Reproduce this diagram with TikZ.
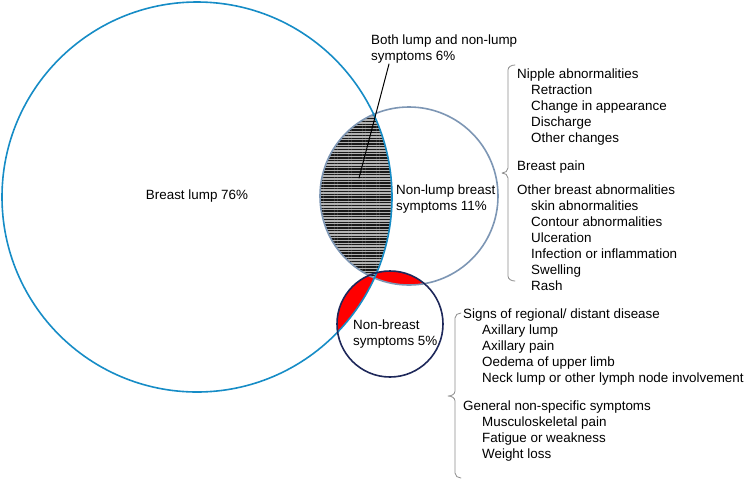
\documentclass[tikz,border=0pt]{standalone}
\usepackage{fontspec}
\setmainfont{Liberation Sans}
\usetikzlibrary{patterns.meta}
\definecolor{lumpblue}{RGB}{22,140,198}
\definecolor{nonlumpgray}{RGB}{125,150,180}
\definecolor{nonbreastnavy}{RGB}{30,40,90}
\tikzset{every picture/.append style={
    line join=round,
    line cap=round
  },
  ring/.style={line width=1.6pt},
  lbl/.style={align=left,inner sep=0pt,font=\fontsize{13.4}{16}\selectfont},
  bracket/.style={draw=black!45,line width=0.8pt}}

\begin{document}
\begin{tikzpicture}[x=1pt,y=-1pt]
        \useasboundingbox (0,0) rectangle (750,491);
        \coordinate (lump) at (197,197);
        \coordinate (nonlump) at (409,196);
        \coordinate (nonbreast) at (390,324);
        % overlaps
        \begin{scope}
            \clip (nonbreast) circle (53);
            \fill [red] (lump) circle (195);
            \fill [red] (nonlump) circle (89);
        \end{scope}
        \begin{scope}
            \clip (lump) circle (195);
            \fill [black!30] (nonlump) circle (89);
            \fill [pattern={Lines[angle=0,distance=2.8pt,line width=1.4pt]},pattern color=black!90] (nonlump) circle (89);
        \end{scope}
        \draw [ring,nonlumpgray] (nonlump) circle (89);
        \draw [ring,lumpblue] (lump) circle (195);
        \draw [ring,nonbreastnavy] (nonbreast) circle (53);
        \node [lbl] (lumplbl) at (197,196) {Breast lump 76\%};
        \node [lbl,anchor=north west] (bothlbl) at (371,35) {Both lump and non-lump\\symptoms 6\%};
        \coordinate (bothfoot) at (389,64);
        \coordinate (bothtip) at (359,178);
        \draw [line width=1pt] (bothfoot) -- (bothtip);
        \node [lbl,anchor=north west] (nonlumplbl) at (396,185) {Non-lump breast\\symptoms 11\%};
        \node [lbl,anchor=north west] (nonbreastlbl) at (353,320) {Non-breast\\symptoms 5\%};
        % lists
        \draw [bracket] (515,65) to[out=180,in=90] (508,70) -- (508,168) to[out=270,in=0] (502,173)
            to[out=0,in=90] (508,178) -- (508,276) to[out=270,in=180] (515,281);
        \node [lbl,anchor=north west] (breastlist) at (517,69) {Nipple abnormalities\\
            \hspace*{14pt}Retraction\\
            \hspace*{14pt}Change in appearance\\
            \hspace*{14pt}Discharge\\
            \hspace*{14pt}Other changes\\[12pt]
            Breast pain\\[8pt]
            Other breast abnormalities\\
            \hspace*{14pt}skin abnormalities\\
            \hspace*{14pt}Contour abnormalities\\
            \hspace*{14pt}Ulceration\\
            \hspace*{14pt}Infection or inflammation\\
            \hspace*{14pt}Swelling\\
            \hspace*{14pt}Rash};
        \draw [bracket] (461,313) to[out=180,in=90] (455,318) -- (455,391) to[out=270,in=0] (448,396)
            to[out=0,in=90] (455,401) -- (455,473) to[out=270,in=180] (461,478);
        \node [lbl,anchor=north west] (otherlist) at (463,309) {Signs of regional/ distant disease\\
            \hspace*{19pt}Axillary lump\\
            \hspace*{19pt}Axillary pain\\
            \hspace*{19pt}Oedema of upper limb\\
            \hspace*{19pt}Neck lump or other lymph node involvement\\[12pt]
            General non-specific symptoms\\
            \hspace*{19pt}Musculoskeletal pain\\
            \hspace*{19pt}Fatigue or weakness\\
            \hspace*{19pt}Weight loss};
    \end{tikzpicture}
\end{document}
